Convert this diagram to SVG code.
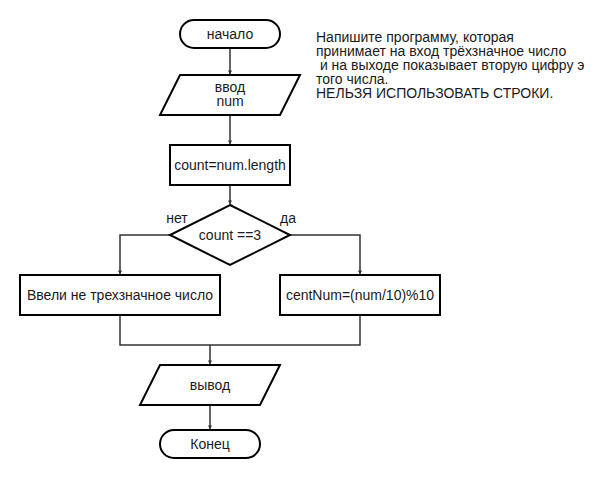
<svg xmlns="http://www.w3.org/2000/svg" width="610" height="480" viewBox="0 0 610 480">
<defs>
<style>
.s{fill:#fff;stroke:#000;stroke-width:2}
.t{font-family:"Liberation Sans",Arial,sans-serif;font-size:14px;fill:#1a1a1a;text-anchor:middle}
.d{font-family:"Liberation Sans",Arial,sans-serif;font-size:14px;fill:#1a1a1a}
.c{fill:none;stroke:#333;stroke-width:1.5}
</style>
<marker id="a" viewBox="0 0 10 10" refX="9" refY="5" markerWidth="4" markerHeight="5" orient="auto" markerUnits="userSpaceOnUse">
<path d="M0,0 L10,5 L0,10 z" fill="#333"/>
</marker>
</defs>
<rect width="610" height="480" fill="#fff"/>
<g id="connectors">
<path class="c" d="M230,48 V74" marker-end="url(#a)"/>
<path class="c" d="M230,115 V144" marker-end="url(#a)"/>
<path class="c" d="M230,185 V204" marker-end="url(#a)"/>
<path class="c" d="M170,235 H120 V274" marker-end="url(#a)"/>
<path class="c" d="M290,235 H360 V274" marker-end="url(#a)"/>
<path class="c" d="M120,315 V345 H360 V315"/>
<path class="c" d="M210,345 V364" marker-end="url(#a)"/>
<path class="c" d="M210,405 V429" marker-end="url(#a)"/>
</g>
<g id="start">
<rect class="s" x="180" y="20" width="100" height="28" rx="14"/>
<text class="t" x="230" y="39">начало</text>
</g>
<g id="input">
<polygon class="s" points="180,75 300,75 280,115 160,115"/>
<text class="t" x="230" y="92">ввод</text>
<text class="t" x="230" y="106">num</text>
</g>
<g id="count">
<rect class="s" x="170" y="145" width="120" height="40"/>
<text class="t" x="230" y="170">count=num.length</text>
</g>
<g id="decision">
<polygon class="s" points="230,205 290,235 230,265 170,235"/>
<text class="t" x="230" y="240">count ==3</text>
</g>
<text class="t" x="177" y="223">нет</text>
<text class="t" x="288" y="223">да</text>
<g id="error">
<rect class="s" x="20" y="275" width="200" height="40"/>
<text class="t" x="120" y="300">Ввели не трехзначное число</text>
</g>
<g id="calc">
<rect class="s" x="280" y="275" width="160" height="40"/>
<text class="t" x="360" y="300">centNum=(num/10)%10</text>
</g>
<g id="output">
<polygon class="s" points="160,365 280,365 260,405 140,405"/>
<text class="t" x="210" y="390">вывод</text>
</g>
<g id="end">
<rect class="s" x="160" y="430" width="100" height="28" rx="14"/>
<text class="t" x="210" y="449">Конец</text>
</g>
<g id="note">
<text class="d" x="316" y="42">Напишите программу, которая</text>
<text class="d" x="316" y="56">принимает на вход трёхзначное число</text>
<text class="d" x="316" y="70" xml:space="preserve"> и на выходе показывает вторую цифру э</text>
<text class="d" x="316" y="84">того числа.</text>
<text class="d" x="316" y="98">НЕЛЬЗЯ ИСПОЛЬЗОВАТЬ СТРОКИ.</text>
</g>
</svg>
